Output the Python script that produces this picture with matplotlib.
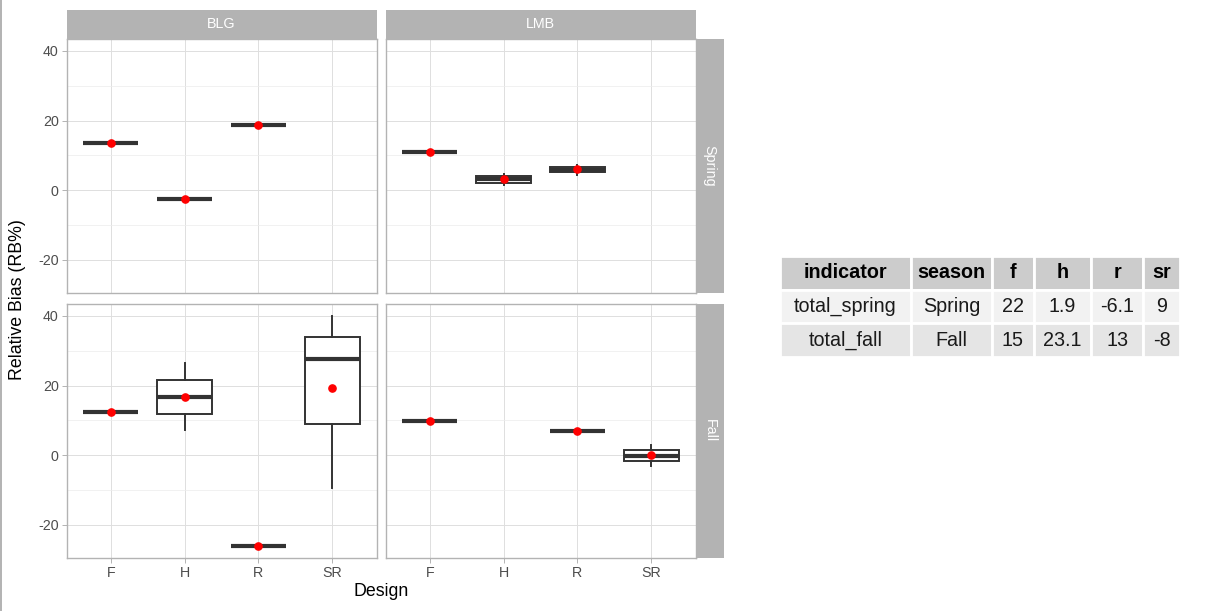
import numpy as np
import matplotlib
matplotlib.use('Agg')
import matplotlib.pyplot as plt
from matplotlib.lines import Line2D

plt.rcParams['font.family'] = ['Liberation Sans', 'DejaVu Sans']
plt.rcParams['axes.unicode_minus'] = False

# ---- data ----
designs = ['F', 'H', 'R', 'SR']
species = ['BLG', 'LMB']
seasons = ['Spring', 'Fall']
nan = np.nan

# box stats per facet: lower whisker, q1, median, q3, upper whisker, mean
blg_spring_lo = [13.5, -2.5, 18.8, nan]
blg_spring_q1 = [13.5, -2.5, 18.8, nan]
blg_spring_med = [13.5, -2.5, 18.8, nan]
blg_spring_q3 = [13.5, -2.5, 18.8, nan]
blg_spring_hi = [13.5, -2.5, 18.8, nan]
blg_spring_mean = [13.5, -2.5, 18.8, nan]

lmb_spring_lo = [10.9, 1.5, 4.5, nan]
lmb_spring_q1 = [10.9, 2.2, 5.1, nan]
lmb_spring_med = [10.9, 3.1, 5.9, nan]
lmb_spring_q3 = [10.9, 4.0, 6.6, nan]
lmb_spring_hi = [10.9, 4.6, 7.3, nan]
lmb_spring_mean = [10.9, 3.1, 6.0, nan]

blg_fall_lo = [12.5, 7.2, -26.2, -9.5]
blg_fall_q1 = [12.5, 11.8, -26.2, 8.9]
blg_fall_med = [12.5, 16.8, -26.2, 27.5]
blg_fall_q3 = [12.5, 21.7, -26.2, 33.9]
blg_fall_hi = [12.5, 26.6, -26.2, 40.1]
blg_fall_mean = [12.5, 16.8, -26.2, 19.4]

lmb_fall_lo = [9.7, nan, 7.0, -3.1]
lmb_fall_q1 = [9.7, nan, 7.0, -1.6]
lmb_fall_med = [9.7, nan, 7.0, -0.1]
lmb_fall_q3 = [9.7, nan, 7.0, 1.4]
lmb_fall_hi = [9.7, nan, 7.0, 2.9]
lmb_fall_mean = [9.7, nan, 7.0, 0.0]

facets = {
    ('BLG', 'Spring'): (blg_spring_lo, blg_spring_q1, blg_spring_med, blg_spring_q3, blg_spring_hi, blg_spring_mean),
    ('LMB', 'Spring'): (lmb_spring_lo, lmb_spring_q1, lmb_spring_med, lmb_spring_q3, lmb_spring_hi, lmb_spring_mean),
    ('BLG', 'Fall'): (blg_fall_lo, blg_fall_q1, blg_fall_med, blg_fall_q3, blg_fall_hi, blg_fall_mean),
    ('LMB', 'Fall'): (lmb_fall_lo, lmb_fall_q1, lmb_fall_med, lmb_fall_q3, lmb_fall_hi, lmb_fall_mean),
}

# summary table
table_cols = ['indicator', 'season', 'f', 'h', 'r', 'sr']
table_rows = [['total_spring', 'Spring', '22', '1.9', '-6.1', '9'],
              ['total_fall', 'Fall', '15', '23.1', '13', '-8']]

# ---- layout (pixels) ----
W, H = 1222, 611


def rect(l, t, r, b):
    return [l / W, 1 - b / H, (r - l) / W, (b - t) / H]


col_l = [66.5, 385.5]
col_r = [376.5, 695.5]
row_t = [39, 304]
row_b = [293, 558]

fig = plt.figure(figsize=(W / 100, H / 100), dpi=100)

# shared y scale with ggplot-like 5% expansion
all_lo = np.nanmin([np.nanmin(v[0]) for v in facets.values()])
all_hi = np.nanmax([np.nanmax(v[4]) for v in facets.values()])
pad = 0.05 * (all_hi - all_lo)
ylim = (all_lo - pad, all_hi + pad)

grey70 = '#b3b3b3'
box_col = '#333333'

for i, season in enumerate(seasons):
    for j, sp in enumerate(species):
        ax = fig.add_axes(rect(col_l[j], row_t[i], col_r[j], row_b[i]))
        lo, q1, med, q3, hi, mean = facets[(sp, season)]
        stats, pos = [], []
        for k in range(len(designs)):
            if np.isnan(med[k]):
                continue
            stats.append(dict(whislo=lo[k], q1=q1[k], med=med[k], q3=q3[k],
                              whishi=hi[k], mean=mean[k], fliers=[]))
            pos.append(k + 1)
        ax.bxp(stats, positions=pos, widths=0.75, showmeans=True,
               showcaps=False, showfliers=False, patch_artist=True,
               boxprops=dict(facecolor='white', edgecolor=box_col, linewidth=1.4),
               whiskerprops=dict(color=box_col, linewidth=1.4),
               medianprops=dict(color=box_col, linewidth=3.0, solid_capstyle='butt'),
               meanprops=dict(marker='o', markerfacecolor='red',
                              markeredgecolor='red', markersize=5.2),
               zorder=3)
        ax.set_xlim(0.4, 4.6)
        ax.set_ylim(*ylim)
        ax.set_xticks(range(1, len(designs) + 1))
        ax.set_xticklabels(designs)
        ax.set_yticks([-20, 0, 20, 40])
        ax.set_yticks([-10, 10, 30], minor=True)
        ax.tick_params(axis='y', which='minor', length=0)
        ax.grid(which='major', color='#dedede', linewidth=0.7)
        ax.grid(which='minor', axis='y', color='#ececec', linewidth=0.5)
        ax.set_axisbelow(True)
        for s in ax.spines.values():
            s.set_color(grey70)
            s.set_linewidth(1.0)
        ax.tick_params(which='major', color=grey70, length=3.5, width=0.7,
                       labelcolor='#4d4d4d', labelsize=10.3, pad=2)
        if j != 0:
            ax.tick_params(axis='y', labelleft=False, length=0)
        if i != len(seasons) - 1:
            ax.tick_params(axis='x', labelbottom=False, length=0)

# strips
for j, sp in enumerate(species):
    sa = fig.add_axes(rect(col_l[j], 10, col_r[j], 39))
    sa.set_facecolor(grey70)
    sa.set_xticks([])
    sa.set_yticks([])
    for s in sa.spines.values():
        s.set_visible(False)
    sa.text(0.5, 0.5, sp, color='white', fontsize=10.3, ha='center', va='center',
            transform=sa.transAxes)

for i, season in enumerate(seasons):
    sa = fig.add_axes(rect(695.5, row_t[i], 723.5, row_b[i]))
    sa.set_facecolor(grey70)
    sa.set_xticks([])
    sa.set_yticks([])
    for s in sa.spines.values():
        s.set_visible(False)
    sa.text(0.5, 0.5, season, color='white', fontsize=10.3, ha='center', va='center',
            rotation=-90, transform=sa.transAxes)

# axis titles
fig.text(381 / W, 1 - 592 / H, 'Design', ha='center', va='center', fontsize=12.8)
fig.text(18 / W, 1 - 300 / H, 'Relative Bias (RB%)', ha='center', va='center',
         rotation=90, fontsize=12.8)

# table
ta = fig.add_axes(rect(780, 256, 1180, 357))
ta.axis('off')
widths = np.array([127, 79, 40, 56, 50, 36], dtype=float)
tbl = ta.table(cellText=table_rows, colLabels=table_cols, cellLoc='center',
               bbox=[0, 0, 1, 1], colWidths=list(widths / widths.sum()))
tbl.auto_set_font_size(False)
tbl.set_fontsize(14.2)
row_fill = ['#f2f2f2', '#e5e5e5']
for (r, c), cell in tbl.get_celld().items():
    cell.set_edgecolor('white')
    cell.set_linewidth(2)
    if r == 0:
        cell.set_facecolor('#cccccc')
        cell.get_text().set_fontweight('bold')
    else:
        cell.set_facecolor(row_fill[(r - 1) % 2])
        cell.get_text().set_color('#1a1a1a')

# thin grey border at the left edge of the picture
fig.add_artist(Line2D([0.6 / W, 0.6 / W], [0, 1], color='#a6a6a6', lw=1.2,
                      transform=fig.transFigure))

fig.savefig('out.png', dpi=100)
